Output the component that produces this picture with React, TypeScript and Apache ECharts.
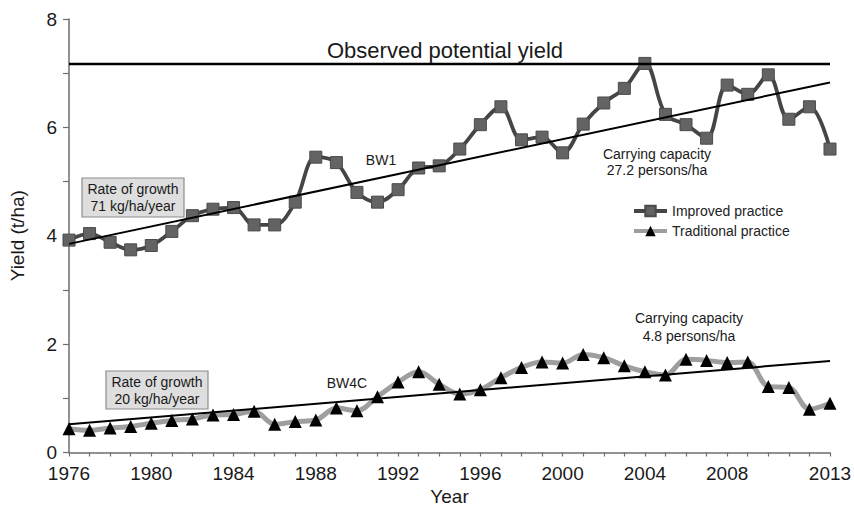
import React, { useEffect, useRef } from "react";
import * as echarts from "echarts";

// Harvest years
const years = [
  1976, 1977, 1978, 1979, 1980, 1981, 1982, 1983, 1984, 1985, 1986, 1987, 1988,
  1989, 1990, 1991, 1992, 1993, 1994, 1995, 1996, 1997, 1998, 1999, 2000, 2001,
  2002, 2003, 2004, 2005, 2006, 2007, 2008, 2009, 2010, 2011, 2012, 2013,
];

// Yield (t/ha), BW1 improved practice
const improved = [
  3.92, 4.04, 3.88, 3.74, 3.82, 4.08, 4.37, 4.49, 4.52, 4.2, 4.2, 4.62, 5.45,
  5.35, 4.8, 4.62, 4.85, 5.25, 5.29, 5.6, 6.05, 6.38, 5.77, 5.82, 5.53, 6.06,
  6.45, 6.72, 7.18, 6.24, 6.05, 5.8, 6.78, 6.61, 6.97, 6.15, 6.38, 5.6,
];

// Yield (t/ha), BW4C traditional practice
const traditional = [
  0.44, 0.41, 0.45, 0.48, 0.54, 0.59, 0.62, 0.69, 0.7, 0.76, 0.52, 0.57, 0.6,
  0.82, 0.77, 1.03, 1.3, 1.49, 1.26, 1.08, 1.16, 1.38, 1.57, 1.67, 1.65, 1.81,
  1.75, 1.6, 1.49, 1.43, 1.72, 1.7, 1.66, 1.67, 1.22, 1.2, 0.8, 0.91,
];

// Fitted trend lines: [start, end] values at the first and last year
const improvedTrend = [3.85, 6.83];
const traditionalTrend = [0.52, 1.69];
const potentialYield = 7.17;

const xLabelYears = [1976, 1980, 1984, 1988, 1992, 1996, 2000, 2004, 2008, 2013];
const yLabelValues = [0, 2, 4, 6, 8];

const FONT = "'Liberation Sans', Arial, Helvetica, sans-serif";

export default function App() {
  const ref = useRef<HTMLDivElement>(null);

  useEffect(() => {
    if (!ref.current) return;
    const chart = echarts.init(ref.current, undefined, { renderer: "svg" });
    const first = years[0];
    const last = years[years.length - 1];

    const txt = (
      text: string,
      x: number,
      y: number,
      fontSize: number,
      lineHeight?: number
    ) => ({
      type: "text",
      x,
      y,
      z: 100,
      silent: true,
      style: {
        text,
        fontSize,
        fontFamily: FONT,
        fill: "#1a1a1a",
        lineHeight: lineHeight || fontSize,
        align: "center",
        verticalAlign: "middle",
        textAlign: "center",
        textVerticalAlign: "middle",
      },
    });

    const box = (x: number, y: number, w: number, h: number) => ({
      type: "rect",
      z: 99,
      silent: true,
      shape: { x, y, width: w, height: h },
      style: { fill: "#dedede", stroke: "#8c8c8c", lineWidth: 1.2 },
    });

    chart.setOption({
      animation: false,
      backgroundColor: "#ffffff",
      textStyle: { fontFamily: FONT },
      grid: {
        left: 69,
        right: 24,
        top: 19,
        bottom: 61.5,
        containLabel: false,
        outerBoundsMode: "none",
      },
      legend: {
        data: [
          { name: "Improved practice", lineStyle: { width: 4, color: "#454545" } },
          { name: "Traditional practice", lineStyle: { width: 4, color: "#9e9e9e" } },
        ],
        orient: "vertical",
        left: 627,
        top: 199,
        itemWidth: 33,
        itemHeight: 13,
        itemGap: 6,
        textStyle: { fontSize: 14, color: "#222", fontFamily: FONT },
      },
      xAxis: {
        type: "value",
        min: first,
        max: last,
        interval: 1,
        name: "Year",
        nameLocation: "middle",
        nameGap: 32,
        nameTextStyle: { fontSize: 19, color: "#1a1a1a", fontFamily: FONT },
        axisLine: { lineStyle: { color: "#6e6e6e", width: 1.5 } },
        axisTick: { length: 4, lineStyle: { color: "#6e6e6e", width: 1.2 } },
        axisLabel: {
          margin: 11,
          fontSize: 19,
          color: "#1a1a1a",
          showMinLabel: true,
          showMaxLabel: true,
          formatter: (v: number) =>
            xLabelYears.indexOf(v) >= 0 ? String(v) : "",
        },
        splitLine: { show: false },
      },
      yAxis: {
        type: "value",
        min: 0,
        max: 8,
        interval: 1,
        name: "Yield (t/ha)",
        nameLocation: "middle",
        nameGap: 42,
        nameTextStyle: { fontSize: 19, color: "#1a1a1a", fontFamily: FONT },
        axisLine: { show: true, lineStyle: { color: "#6e6e6e", width: 1.5 } },
        axisTick: { show: true, length: 6, lineStyle: { color: "#6e6e6e", width: 1.2 } },
        axisLabel: {
          margin: 12,
          fontSize: 19,
          color: "#1a1a1a",
          formatter: (v: number) =>
            yLabelValues.indexOf(v) >= 0 ? String(v) : "",
        },
        splitLine: { show: false },
      },
      series: [
        {
          name: "Improved practice",
          type: "line",
          smooth: 0.35,
          data: years.map((y, i) => [y, improved[i]]),
          symbol: "rect",
          symbolSize: 12,
          lineStyle: { color: "#454545", width: 3.8 },
          itemStyle: { color: "#636363", borderColor: "#4a4a4a", borderWidth: 1 },
          z: 3,
        },
        {
          name: "Traditional practice",
          type: "line",
          smooth: 0.35,
          data: years.map((y, i) => [y, traditional[i]]),
          symbol: "triangle",
          symbolSize: 13,
          lineStyle: { color: "#9e9e9e", width: 5 },
          itemStyle: { color: "#000000" },
          z: 3,
        },
        {
          name: "BW1 trend",
          type: "line",
          data: [
            [first, improvedTrend[0]],
            [last, improvedTrend[1]],
          ],
          symbol: "none",
          silent: true,
          lineStyle: { color: "#000", width: 2 },
          z: 4,
        },
        {
          name: "BW4C trend",
          type: "line",
          data: [
            [first, traditionalTrend[0]],
            [last, traditionalTrend[1]],
          ],
          symbol: "none",
          silent: true,
          lineStyle: { color: "#000", width: 2 },
          z: 4,
        },
        {
          name: "Observed potential yield",
          type: "line",
          data: [
            [first, potentialYield],
            [last, potentialYield],
          ],
          symbol: "none",
          silent: true,
          lineStyle: { color: "#000", width: 2.5 },
          z: 4,
        },
      ],
      graphic: [
        txt("Observed potential yield", 445, 50, 22),
        txt("BW1", 381, 160, 14),
        txt("Carrying capacity\n27.2 persons/ha", 657, 162, 14, 16),
        box(82, 178, 102, 39),
        txt("Rate of growth\n71 kg/ha/year", 133, 197.5, 14, 17),
        txt("BW4C", 347, 383, 14),
        txt("Carrying capacity\n4.8 persons/ha", 689, 327, 14, 18),
        box(106, 371, 102, 38),
        txt("Rate of growth\n20 kg/ha/year", 157, 390.5, 14, 17),
      ],
    });

    return () => chart.dispose();
  }, []);

  return (
    <div
      ref={ref}
      style={{ position: "fixed", left: 0, top: 0, width: 854, height: 514 }}
    />
  );
}
